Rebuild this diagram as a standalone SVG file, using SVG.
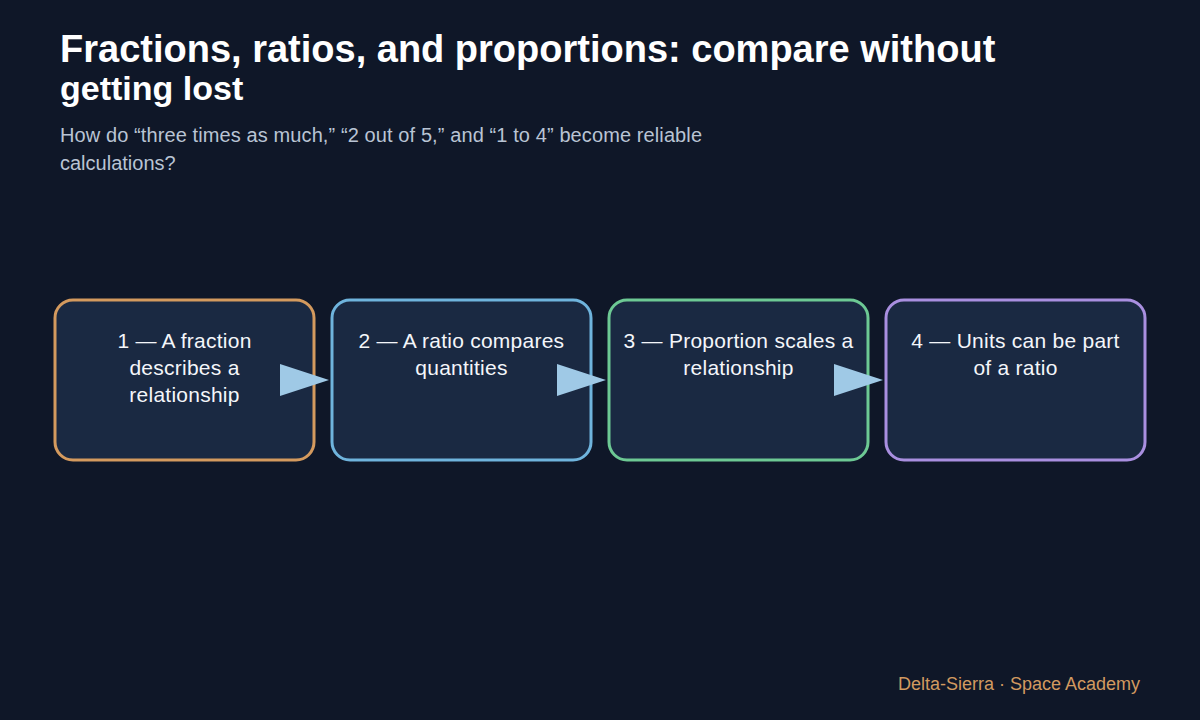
<svg xmlns="http://www.w3.org/2000/svg" width="1200" height="720" viewBox="0 0 1200 720">
<style>
.bg{fill:#0f1728}
.title{font-family:"Liberation Sans",Arial,sans-serif;font-weight:bold;fill:#ffffff}
.sub{font-family:"Liberation Sans",Arial,sans-serif;font-size:20px;fill:#b9c4d4}
.box{fill:#1a2942;stroke-width:3}
.lbl{font-family:"Liberation Sans",Arial,sans-serif;font-size:21px;letter-spacing:0.25px;fill:#f4f6fa;text-anchor:middle}
.foot{font-family:"Liberation Sans",Arial,sans-serif;font-size:18px;fill:#d29a60;text-anchor:end}
.arrow{fill:#9fc9e6}
</style>
<rect class="bg" x="0" y="0" width="1200" height="720"/>
<g id="header">
<text class="title" x="60" y="62" font-size="38">Fractions, ratios, and proportions: compare without</text>
<text class="title" x="60" y="100" font-size="34">getting lost</text>
<text class="sub" x="60" y="142" textLength="642" lengthAdjust="spacing">How do “three times as much,” “2 out of 5,” and “1 to 4” become reliable</text>
<text class="sub" x="60" y="170">calculations?</text>
</g>
<g id="node1">
<rect class="box" x="55" y="300" width="259" height="160" rx="18" stroke="#d49a5e"/>
<text class="lbl" x="184.5" y="348">1 — A fraction</text>
<text class="lbl" x="184.5" y="375">describes a</text>
<text class="lbl" x="184.5" y="402">relationship</text>
</g>
<g id="node2">
<rect class="box" x="332" y="300" width="259" height="160" rx="18" stroke="#6fb4dd"/>
<text class="lbl" x="461.5" y="348">2 — A ratio compares</text>
<text class="lbl" x="461.5" y="375">quantities</text>
</g>
<g id="node3">
<rect class="box" x="609" y="300" width="259" height="160" rx="18" stroke="#6dc994"/>
<text class="lbl" x="738.5" y="348">3 — Proportion scales a</text>
<text class="lbl" x="738.5" y="375">relationship</text>
</g>
<g id="node4">
<rect class="box" x="886" y="300" width="259" height="160" rx="18" stroke="#a98fe0"/>
<text class="lbl" x="1015.5" y="348">4 — Units can be part</text>
<text class="lbl" x="1015.5" y="375">of a ratio</text>
</g>
<g id="connectors">
<polygon class="arrow" points="280,364 329,380 280,396"/>
<polygon class="arrow" points="557,364 606,380 557,396"/>
<polygon class="arrow" points="834,364 883,380 834,396"/>
</g>
<g id="footer">
<text class="foot" x="1140" y="690">Delta-Sierra · Space Academy</text>
</g>
</svg>
